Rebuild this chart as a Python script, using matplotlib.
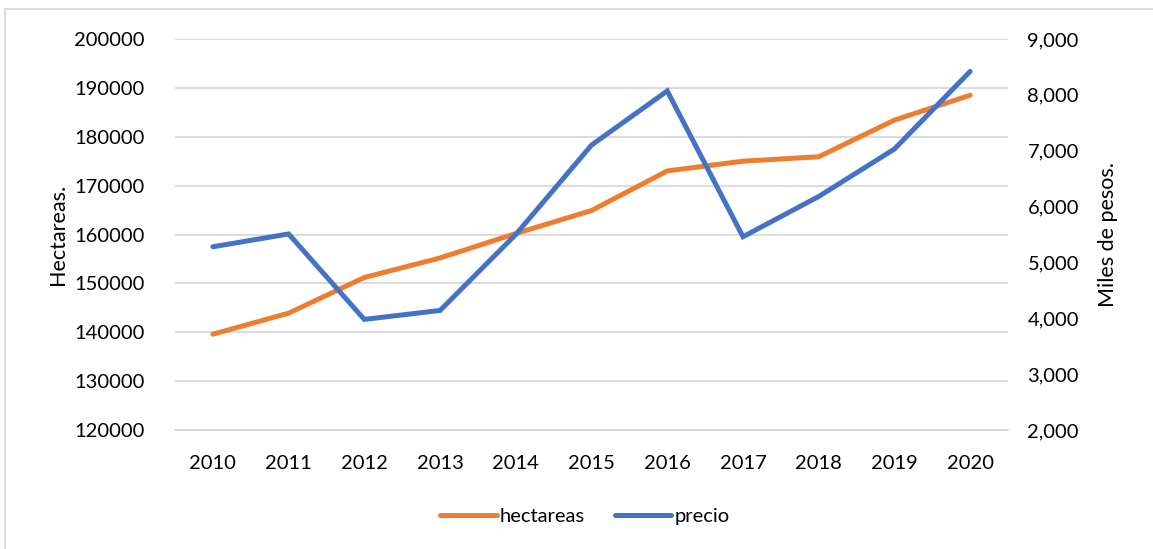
import matplotlib.pyplot as plt
from matplotlib.patches import Rectangle
from matplotlib.ticker import FuncFormatter

years = [2010, 2011, 2012, 2013, 2014, 2015, 2016, 2017, 2018, 2019, 2020]
hectareas = [139600, 143900, 151200, 155200, 160200, 164900, 173000, 175000, 175900, 183400, 188500]
precio = [5280, 5510, 3980, 4140, 5500, 7100, 8070, 5460, 6180, 7030, 8420]

ORANGE = '#ED7D31'
BLUE = '#4472C4'
GRID = '#D9D9D9'

plt.rcParams['font.family'] = ['Lato', 'DejaVu Sans']

fig = plt.figure(figsize=(11.53, 5.49), dpi=100)
ax = fig.add_axes([175 / 1153, 1 - 430 / 549, (1008 - 175) / 1153, (430 - 39) / 549])
ax2 = ax.twinx()

x = list(range(len(years)))
ax.plot(x, hectareas, color=ORANGE, lw=3.6, solid_capstyle='round', solid_joinstyle='miter', label='hectareas')
ax2.plot(x, precio, color=BLUE, lw=3.6, solid_capstyle='round', solid_joinstyle='miter', label='precio')

ax.set_xlim(-0.5, len(years) - 0.5)
ax.set_ylim(120000, 200000)
ax.set_yticks(range(120000, 200001, 10000))
ax2.set_ylim(2000, 9000)
ax2.set_yticks(range(2000, 9001, 1000))
ax2.yaxis.set_major_formatter(FuncFormatter(lambda v, p: f'{int(v):,}'))

ax.set_xticks(x)
ax.set_xticklabels([str(y) for y in years])

ax.grid(axis='y', color=GRID, lw=1.3)
ax.set_axisbelow(True)
for a in (ax, ax2):
    for s in a.spines.values():
        s.set_visible(False)
    a.tick_params(length=0, labelsize=14.5, colors='#000000')
ax.spines['bottom'].set_visible(True)
ax.spines['bottom'].set_color(GRID)
ax.spines['bottom'].set_linewidth(1.3)
ax.tick_params(axis='y', pad=22)
ax.tick_params(axis='x', pad=18)
ax2.tick_params(axis='y', pad=14)

ax.set_ylabel('Hectareas.', fontsize=15.5, labelpad=4)
ax2.set_ylabel('Miles de pesos.', fontsize=15.5, labelpad=14)

fig.legend(handles=ax.get_lines() + ax2.get_lines(), loc='center',
           bbox_to_anchor=(585 / 1153, 1 - 516 / 549), ncol=2, frameon=False,
           fontsize=14.5, handlelength=2.8, handletextpad=0.15, columnspacing=1.5)

fig.patches.append(Rectangle((5 / 1153, -0.01), 1.02, 1 - 9 / 549 + 0.01, transform=fig.transFigure,
                             fill=False, edgecolor=GRID, lw=1.3))

fig.savefig('out.png', dpi=100)
